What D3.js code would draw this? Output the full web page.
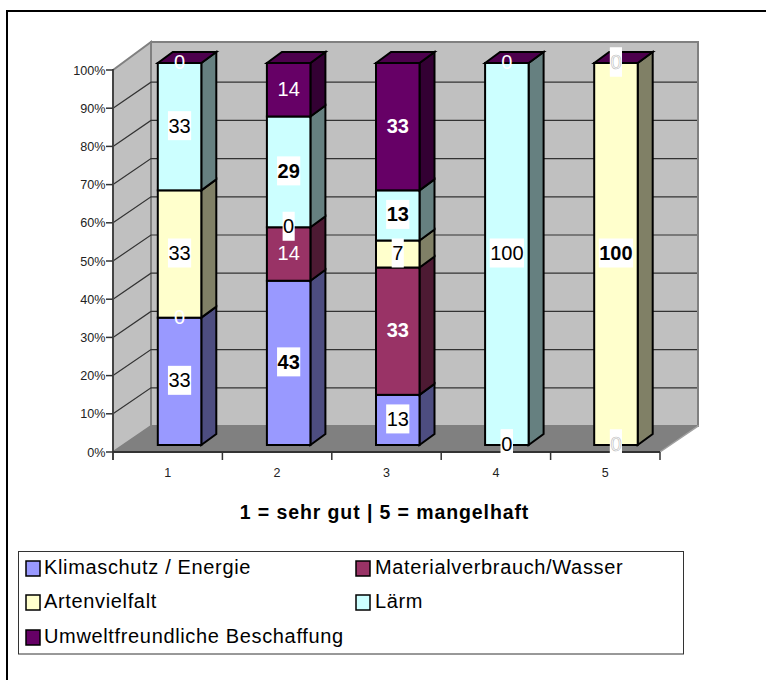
<!DOCTYPE html>
<html><head><meta charset="utf-8">
<script src="https://cdnjs.cloudflare.com/ajax/libs/d3/7.8.5/d3.min.js"></script>
<style>html,body{margin:0;background:#fff;overflow:hidden}svg{display:block}text{font-family:"Liberation Sans",Arial,sans-serif}</style>
</head><body><svg id="c" width="766" height="680"></svg>
<script>
const categories=["1","2","3","4","5"];
const seriesNames=["Klimaschutz / Energie","Materialverbrauch/Wasser","Artenvielfalt","Lärm","Umweltfreundliche Beschaffung"];
const klimaschutz=[33,43,13,0,0];
const material=[0,14,33,0,0];
const arten=[33,0,7,0,100];
const laerm=[33,29,13,100,0];
const beschaffung=[0,14,33,0,0];
const frontColors=["#9999FF","#993366","#FFFFCC","#CCFFFF","#660066"];
const sideColors=["#4D4D80","#4D1A33","#808066","#668080","#330033"];
const topColor="#4D004D";
const labelStyles=[
 ["n","b","n","n","g"],
 ["w","w","wb","n","g"],
 ["n","n","n","n","b"],
 ["n","b","b","n","g"],
 ["w","w","wb","w","g"]];
const pctTicks=[0,10,20,30,40,50,60,70,80,90,100];
const table=categories.map((c,i)=>({c,s0:klimaschutz[i],s1:material[i],s2:arten[i],s3:laerm[i],s4:beschaffung[i]}));
const keys=["s0","s1","s2","s3","s4"];
const stack=d3.stack().keys(keys).offset(d3.stackOffsetExpand)(table);

const svg=d3.select("#c");
svg.append("rect").attr("x",7).attr("y",11).attr("width",800).attr("height",720).attr("fill","#fff").attr("stroke","#000").attr("stroke-width",2);

const yAxis=d3.scaleLinear().domain([0,100]).range([452,70]);
const xAxis=d3.scaleBand().domain(categories).range([113,660]);
const DX=38,DY=-26;
const wall=svg.append("g");
const L=113,R=660,B=452,T=70;
wall.append("path").attr("d",`M${L+DX},${T+DY-2}H${R+DX}V${B+DY}H${L+DX}Z`).attr("fill","#C0C0C0").attr("stroke","#808080").attr("stroke-width",2);
wall.append("path").attr("d",`M${L},${T}L${L+DX},${T+DY-2}V${B+DY}L${L},${B}Z`).attr("fill","#C0C0C0").attr("stroke","#808080").attr("stroke-width",2);
wall.append("path").attr("d",`M${L},${B}H${R}L${R+DX},${B+DY}H${L+DX}Z`).attr("fill","#808080");
wall.append("path").attr("d",`M${R},${B}L${R+DX},${B+DY}V${B+DY-1}`).attr("stroke","#A0A0A0").attr("stroke-width",1.5).attr("fill","none");
pctTicks.slice(1,-1).forEach(t=>{const y=yAxis(t);
 wall.append("path").attr("d",`M${L},${y}L${L+DX},${y+DY}H${R+DX-1}`).attr("fill","none").attr("stroke","#333").attr("stroke-width",1.2);
});
const axisG=svg.append("g").attr("stroke","#333");
axisG.append("path").attr("d",`M${L},${T-1}V${B+8}`).attr("stroke-width",2).attr("fill","none").attr("stroke","#444");
axisG.append("path").attr("d",`M${L},${B}H${R}`).attr("stroke-width",2).attr("fill","none");
pctTicks.forEach(t=>{axisG.append("line").attr("x1",L-7).attr("x2",L).attr("y1",yAxis(t)).attr("y2",yAxis(t)).attr("stroke-width",1.5);
 svg.append("text").attr("x",L-7.5).attr("y",yAxis(t)+4.5).attr("text-anchor","end").attr("font-size",12.6).attr("fill","#222").text(t+"%");});
categories.forEach((c,i)=>{const x=xAxis(c)+xAxis.bandwidth();
 axisG.append("line").attr("x1",x).attr("x2",x).attr("y1",B).attr("y2",B+8).attr("stroke-width",1.5);
 svg.append("text").attr("x",xAxis(c)+xAxis.bandwidth()/2).attr("y",477).attr("text-anchor","middle").attr("font-size",12.5).attr("fill","#222").text(c);});

const xBar=d3.scaleBand().domain(categories).range([125,670.5]);
const yBar=d3.scaleLinear().domain([0,1]).range([445,63]);
const barW=43.5,dx=15,dy=-11;
const bars=svg.append("g").attr("stroke","#000").attr("stroke-width",2).attr("stroke-linejoin","miter");
categories.forEach((c,ci)=>{
 const cx=xBar(c)+xBar.bandwidth()/2,x0=cx-barW/2,x1=cx+barW/2;
 stack.forEach((s,si)=>{
  const a=yBar(s[ci][0]),b=yBar(s[ci][1]);
  if(a-b<0.01)return;
  bars.append("path").attr("d",`M${x1},${a}L${x1+dx},${a+dy}V${b+dy}L${x1},${b}Z`).attr("fill",sideColors[si]);
  bars.append("rect").attr("x",x0).attr("y",b).attr("width",barW).attr("height",a-b).attr("fill",frontColors[si]);
 });
 bars.append("path").attr("d",`M${x0},${yBar(1)}L${x0+dx},${yBar(1)+dy}H${x1+dx}L${x1},${yBar(1)}Z`).attr("fill",topColor);
});

const lab=svg.append("g");
stack.forEach((s,si)=>{categories.forEach((c,ci)=>{
 const v=[klimaschutz,material,arten,laerm,beschaffung][si][ci];
 const st=labelStyles[si][ci];
 const cx=xBar(c)+xBar.bandwidth()/2;
 const cy=(yBar(s[ci][0])+yBar(s[ci][1]))/2-1;
 const t=String(v),w=t.length*11.1+1;
 if(st==="n"||st==="b"||st==="g") lab.append("rect").attr("x",cx-w/2).attr("y",cy-14.5).attr("width",w).attr("height",29).attr("fill","#fff");
 const e=lab.append("text").attr("x",cx).attr("y",cy+7).attr("text-anchor","middle").attr("font-size",20).text(t)
  .attr("font-weight",st==="b"||st==="wb"?"bold":"normal")
  .attr("fill",st==="w"||st==="wb"||st==="g"?"#fff":"#000");
 if(st==="g") e.attr("stroke","#bbb").attr("stroke-width",0.6);
});});

svg.append("text").attr("x",384.5).attr("y",519).attr("text-anchor","middle").attr("font-size",19.5).attr("letter-spacing",0.9).attr("font-weight","bold").attr("fill","#000").text("1 = sehr gut | 5 = mangelhaft");

svg.append("rect").attr("x",18.5).attr("y",551.5).attr("width",665).attr("height",102.5).attr("fill","#fff").attr("stroke","#333").attr("stroke-width",1);
const legendCols=[26,356],legendRows=[561,595,630];
const legendPos=[[0,0],[1,0],[0,1],[1,1],[0,2]];
seriesNames.forEach((n,i)=>{const [c,r]=legendPos[i];
 svg.append("rect").attr("x",legendCols[c]).attr("y",legendRows[r]).attr("width",14).attr("height",15).attr("fill",frontColors[i]).attr("stroke","#000").attr("stroke-width",1.5);
 svg.append("text").attr("x",legendCols[c]+18+c).attr("y",legendRows[r]+13).attr("font-size",20).attr("letter-spacing",0.65).attr("fill","#000").text(n);
});
</script></body></html>
